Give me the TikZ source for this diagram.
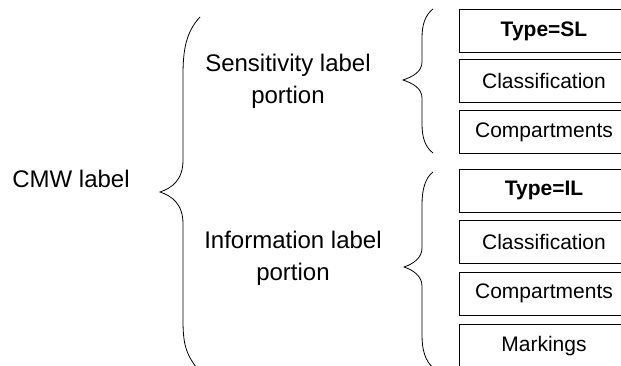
\documentclass[tikz,border=0pt]{standalone}
\usepackage{fontspec}
\setmainfont{Liberation Sans}
\begin{document}
\begin{tikzpicture}[x=1pt,y=-1pt,
  lbl/.style={font=\fontsize{24}{32}\selectfont, align=center, inner sep=0pt},
  fld/.style={draw, line width=0.8pt, minimum width=170pt, minimum height=43pt, inner sep=0pt, font=\fontsize{21}{25}\selectfont},
  brace/.style={line width=0.8pt}]
\useasboundingbox (0,0) rectangle (621,366);
\clip (0,0) rectangle (621,366);
% labels
\node[lbl, anchor=base] (cmw) at (71,188) {CMW label};
\node[lbl, anchor=base] (sl1) at (288,72) {Sensitivity label};
\node[lbl, anchor=base] (sl2) at (288,104) {portion};
\node[lbl, anchor=base] (il1) at (293,248) {Information label};
\node[lbl, anchor=base] (il2) at (293,280) {portion};
% fields
\node[fld] (f1) at (544,31) {\bfseries Type=SL};
\node[fld] (f2) at (544,81) {Classification};
\node[fld] (f3) at (544,132) {Compartments};
\node[fld] (f4) at (544,190.5) {\bfseries Type=IL};
\node[fld] (f5) at (544,242) {Classification};
\node[fld] (f6) at (544,293.5) {Compartments};
\node[fld] (f7) at (544,346) {Markings};
% big brace
\draw[brace] (200,17) .. controls (186,32) and (183,50) .. (183,75)
  -- (183,160) .. controls (183,180) and (172,188) .. (160,192)
  .. controls (172,196) and (183,204) .. (183,224)
  -- (183,320) .. controls (183,345) and (186,355) .. (200,372);
% small brace 1
\draw[brace] (433,9) .. controls (425,15) and (422,25) .. (422,38)
  -- (422,62) .. controls (422,72) and (412,77) .. (403,80)
  .. controls (412,83) and (422,88) .. (422,98)
  -- (422,124) .. controls (422,137) and (425,147) .. (433,153);
% small brace 2
\draw[brace] (433,172) .. controls (425,178) and (422,190) .. (422,205)
  -- (422,248) .. controls (422,258) and (413,264) .. (404,267)
  .. controls (413,270) and (422,276) .. (422,286)
  -- (422,335) .. controls (422,350) and (425,360) .. (433,368);
\end{tikzpicture}
\end{document}
